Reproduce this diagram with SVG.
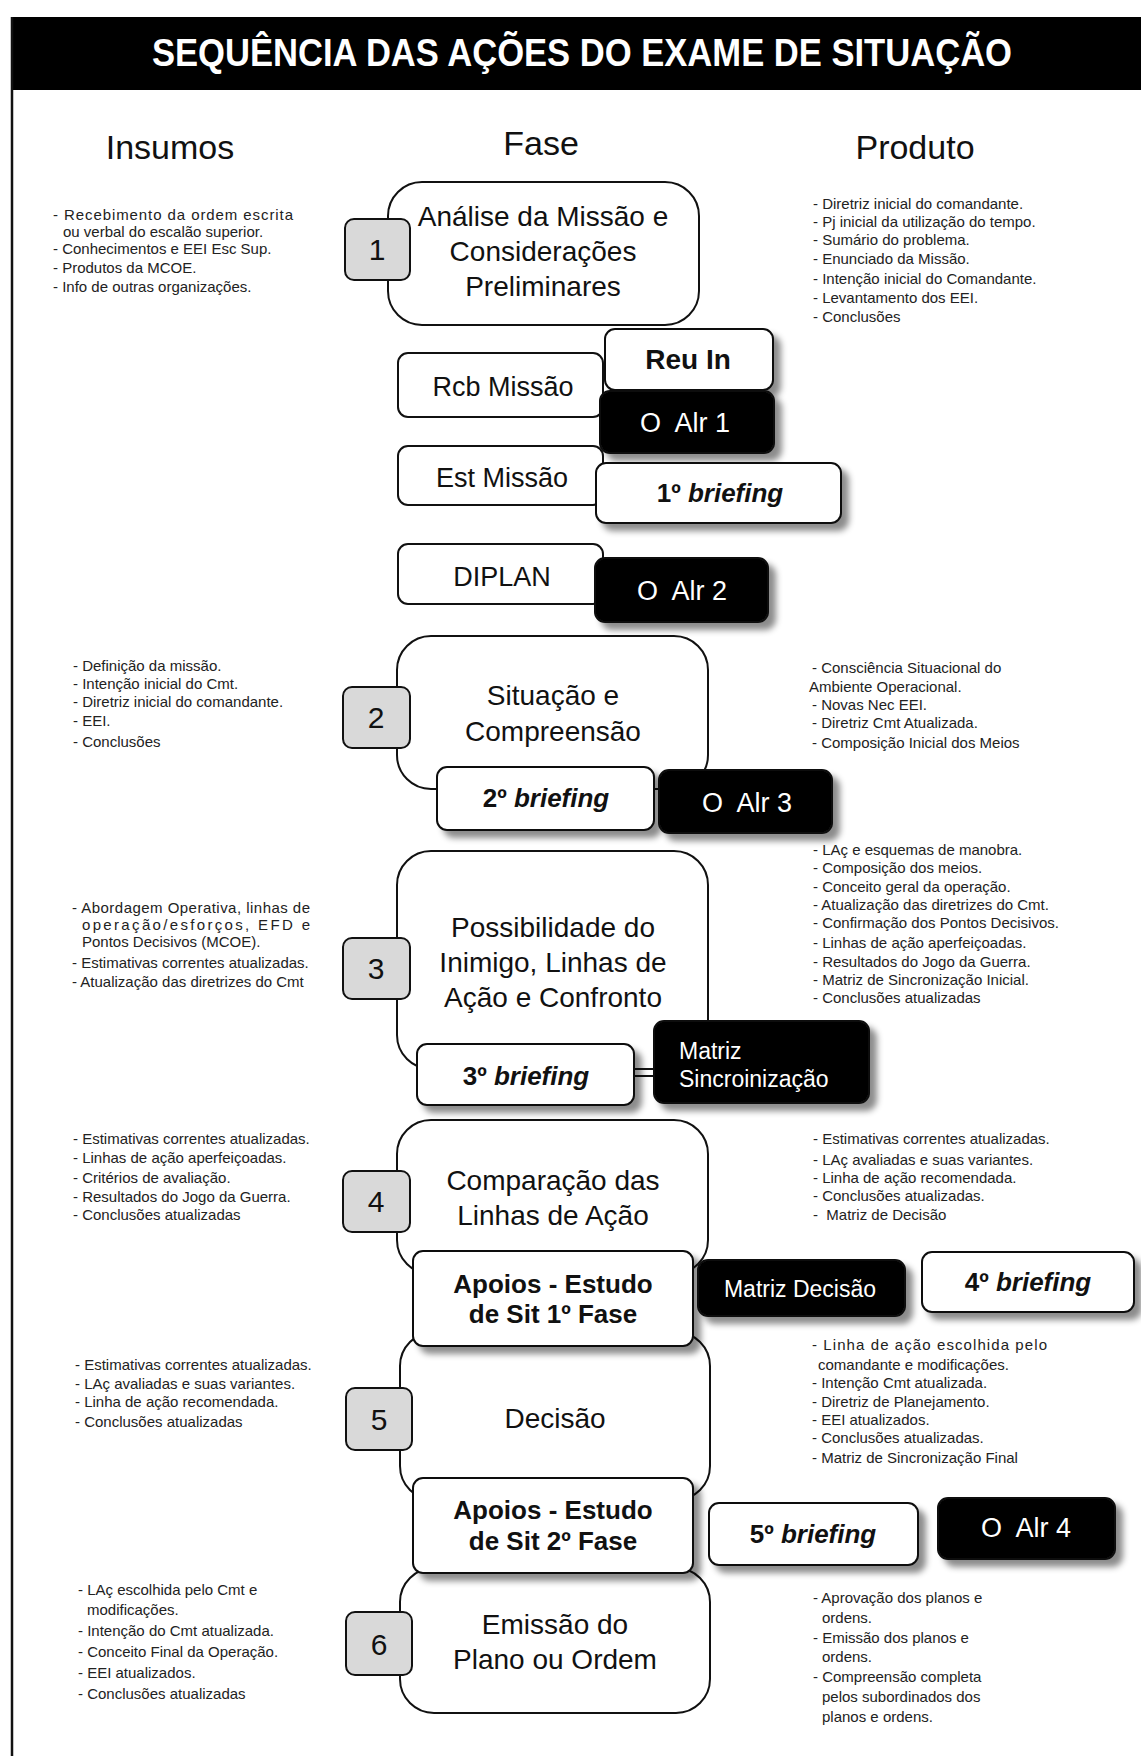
<svg xmlns="http://www.w3.org/2000/svg" width="1141" height="1756" viewBox="0 0 1141 1756">
<style>
text{font-family:"Liberation Sans",Arial,sans-serif;fill:#111}
.hd{font-size:34px;text-anchor:middle}
.ph{font-size:28px;text-anchor:middle}
.num{font-size:30px;text-anchor:middle}
.sb{font-size:27px;text-anchor:middle}
.bb{font-size:26px;font-weight:bold;text-anchor:middle}
.wt{fill:#fff}
.sm{font-size:15px;fill:#222}
.box{fill:#fff;stroke:#111;stroke-width:2}
.blk{fill:#000;stroke:#111;stroke-width:2}
.nb{fill:#d9d9d9;stroke:#111;stroke-width:2}
.sh{filter:url(#ds)}
</style>
<defs>
<filter id="ds" x="-20%" y="-20%" width="150%" height="160%">
<feDropShadow dx="7" dy="7" stdDeviation="3" flood-color="#000" flood-opacity="0.45"/>
</filter>
</defs>
<rect width="1141" height="1756" fill="#fff"/>
<g id="frame">
<rect x="11" y="17" width="1130" height="73" fill="#000"/>
<line x1="12" y1="17" x2="12" y2="1756" stroke="#111" stroke-width="2.5"/>
<text x="582" y="66" font-size="38" font-weight="bold" text-anchor="middle" textLength="860" lengthAdjust="spacingAndGlyphs" style="fill:#fff">SEQUÊNCIA DAS AÇÕES DO EXAME DE SITUAÇÃO</text>
</g>
<g id="headers">
<text class="hd" x="170" y="159">Insumos</text>
<text class="hd" x="541" y="155">Fase</text>
<text class="hd" x="915" y="159">Produto</text>
</g>

<g id="connectors">
<line x1="634" y1="1076" x2="654" y2="1076" stroke="#111" stroke-width="2"/>
</g>

<!-- Phase 1 -->
<g id="phase1">
<rect class="box" x="388" y="182" width="311" height="143" rx="34"/>
<text class="ph" x="543" y="226">Análise da Missão e</text>
<text class="ph" x="543" y="261">Considerações</text>
<text class="ph" x="543" y="296">Preliminares</text>
</g>
<g id="num1"><rect class="nb" x="345" y="219" width="65" height="61" rx="9"/><text class="num" x="377" y="260">1</text></g>
<g id="ins1" class="sm">
<text class="sm" x="53" y="220" textLength="240" lengthAdjust="spacing">-  Recebimento da ordem escrita</text>
<text class="sm" x="63" y="237">ou verbal do escalão superior.</text>
<text class="sm" x="53" y="254">- Conhecimentos e EEI Esc Sup.</text>
<text class="sm" x="53" y="273">- Produtos da MCOE.</text>
<text class="sm" x="53" y="292">- Info de outras organizações.</text>
</g>
<g id="prod1">
<text class="sm" x="813" y="209">- Diretriz inicial do comandante.</text>
<text class="sm" x="813" y="227">- Pj inicial da utilização do tempo.</text>
<text class="sm" x="813" y="245">- Sumário do problema.</text>
<text class="sm" x="813" y="264">- Enunciado da Missão.</text>
<text class="sm" x="813" y="284">- Intenção inicial do Comandante.</text>
<text class="sm" x="813" y="303">- Levantamento dos EEI.</text>
<text class="sm" x="813" y="322">- Conclusões</text>
</g>
<g id="rcb"><rect class="box" x="398" y="353" width="205" height="64" rx="10"/><text class="sb" x="503" y="396">Rcb Missão</text></g>
<g id="est"><rect class="box" x="398" y="446" width="205" height="59" rx="10"/><text class="sb" x="502" y="487">Est Missão</text></g>
<g id="diplan"><rect class="box" x="398" y="544" width="205" height="60" rx="10"/><text class="sb" x="502" y="586">DIPLAN</text></g>
<g id="reuin"><rect class="box sh" x="605" y="329" width="168" height="61" rx="10"/><text class="bb" x="688" y="369" style="font-size:28px">Reu In</text></g>
<g id="oalr1"><rect class="blk sh" x="600" y="391" width="174" height="62" rx="10"/><text class="sb wt" x="685" y="432" xml:space="preserve">O  Alr 1</text></g>
<g id="brief1"><rect class="box sh" x="596" y="463" width="245" height="60" rx="10"/><text class="bb" x="720" y="502">1º <tspan font-style="italic">briefing</tspan></text></g>
<g id="oalr2"><rect class="blk sh" x="595" y="558" width="173" height="64" rx="10"/><text class="sb wt" x="682" y="600" xml:space="preserve">O  Alr 2</text></g>

<!-- Phase 2 -->
<g id="phase2">
<rect class="box" x="397" y="636" width="311" height="153" rx="34"/>
<text class="ph" x="553" y="705">Situação e</text>
<text class="ph" x="553" y="741">Compreensão</text>
</g>
<g id="num2"><rect class="nb" x="343" y="687" width="67" height="61" rx="9"/><text class="num" x="376" y="728">2</text></g>
<g id="ins2">
<text class="sm" x="73" y="671">- Definição da missão.</text>
<text class="sm" x="73" y="689">- Intenção inicial do Cmt.</text>
<text class="sm" x="73" y="707">- Diretriz inicial do comandante.</text>
<text class="sm" x="73" y="726">- EEI.</text>
<text class="sm" x="73" y="747">- Conclusões</text>
</g>
<g id="prod2">
<text class="sm" x="812" y="673">- Consciência Situacional do</text>
<text class="sm" x="809" y="692">Ambiente Operacional.</text>
<text class="sm" x="812" y="710">- Novas Nec EEI.</text>
<text class="sm" x="812" y="728">- Diretriz Cmt Atualizada.</text>
<text class="sm" x="812" y="748">- Composição Inicial dos Meios</text>
</g>
<g id="brief2"><rect class="box sh" x="437" y="767" width="217" height="63" rx="10"/><text class="bb" x="546" y="807">2º <tspan font-style="italic">briefing</tspan></text></g>
<g id="oalr3"><rect class="blk sh" x="659" y="770" width="173" height="63" rx="10"/><text class="sb wt" x="747" y="812" xml:space="preserve">O  Alr 3</text></g>

<!-- Phase 3 -->
<g id="phase3">
<rect class="box" x="397" y="851" width="311" height="218" rx="34"/>
<text class="ph" x="553" y="937">Possibilidade do</text>
<text class="ph" x="553" y="972">Inimigo, Linhas de</text>
<text class="ph" x="553" y="1007">Ação e Confronto</text>
</g>
<g id="num3"><rect class="nb" x="343" y="938" width="67" height="61" rx="9"/><text class="num" x="376" y="979">3</text></g>
<g id="ins3">
<text class="sm" x="72" y="913" textLength="238" lengthAdjust="spacing">- Abordagem Operativa, linhas de</text>
<text class="sm" x="82" y="930" textLength="228" lengthAdjust="spacing">operação/esforços, EFD e</text>
<text class="sm" x="82" y="947">Pontos Decisivos (MCOE).</text>
<text class="sm" x="72" y="968">- Estimativas correntes atualizadas.</text>
<text class="sm" x="72" y="987">- Atualização das diretrizes do Cmt</text>
</g>
<g id="prod3">
<text class="sm" x="813" y="855">- LAç e esquemas de manobra.</text>
<text class="sm" x="813" y="873">- Composição dos meios.</text>
<text class="sm" x="813" y="892">- Conceito geral da operação.</text>
<text class="sm" x="813" y="910">- Atualização das diretrizes do Cmt.</text>
<text class="sm" x="813" y="928">- Confirmação dos Pontos Decisivos.</text>
<text class="sm" x="813" y="948">- Linhas de ação aperfeiçoadas.</text>
<text class="sm" x="813" y="967">- Resultados do Jogo da Guerra.</text>
<text class="sm" x="813" y="985">- Matriz de Sincronização Inicial.</text>
<text class="sm" x="813" y="1003">- Conclusões atualizadas</text>
</g>
<g id="brief3"><rect class="box sh" x="417" y="1044" width="217" height="61" rx="10"/><text class="bb" x="526" y="1085">3º <tspan font-style="italic">briefing</tspan></text></g>
<g id="matrizsinc"><rect class="blk sh" x="654" y="1021" width="215" height="82" rx="10"/>
<text class="wt" x="679" y="1059" font-size="23">Matriz</text>
<text class="wt" x="679" y="1087" font-size="23">Sincroinização</text></g>

<!-- Phase 4 -->
<g id="phase4">
<rect class="box" x="397" y="1120" width="311" height="154" rx="34"/>
<text class="ph" x="553" y="1190">Comparação das</text>
<text class="ph" x="553" y="1225">Linhas de Ação</text>
</g>
<g id="num4"><rect class="nb" x="343" y="1171" width="67" height="61" rx="9"/><text class="num" x="376" y="1212">4</text></g>
<g id="ins4">
<text class="sm" x="73" y="1144">- Estimativas correntes atualizadas.</text>
<text class="sm" x="73" y="1163">- Linhas de ação aperfeiçoadas.</text>
<text class="sm" x="73" y="1183">- Critérios de avaliação.</text>
<text class="sm" x="73" y="1202">- Resultados do Jogo da Guerra.</text>
<text class="sm" x="73" y="1220">- Conclusões atualizadas</text>
</g>
<g id="prod4">
<text class="sm" x="813" y="1144">- Estimativas correntes atualizadas.</text>
<text class="sm" x="813" y="1165">- LAç avaliadas e suas variantes.</text>
<text class="sm" x="813" y="1183">- Linha de ação recomendada.</text>
<text class="sm" x="813" y="1201">- Conclusões atualizadas.</text>
<text class="sm" x="813" y="1220" xml:space="preserve">-  Matriz de Decisão</text>
</g>

<!-- Phase 5 -->
<g id="phase5">
<rect class="box" x="400" y="1332" width="310" height="168" rx="34"/>
<text class="ph" x="555" y="1428">Decisão</text>
</g>
<g id="num5"><rect class="nb" x="346" y="1388" width="66" height="62" rx="9"/><text class="num" x="379" y="1430">5</text></g>
<g id="apoios1"><rect class="box sh" x="413" y="1251" width="280" height="95" rx="10"/>
<text class="bb" x="553" y="1293">Apoios - Estudo</text>
<text class="bb" x="553" y="1323">de Sit 1º Fase</text></g>
<g id="matrizdec"><rect class="blk sh" x="698" y="1260" width="207" height="56" rx="10"/><text class="wt" x="800" y="1297" font-size="23" text-anchor="middle">Matriz Decisão</text></g>
<g id="brief4"><rect class="box sh" x="922" y="1252" width="212" height="60" rx="10"/><text class="bb" x="1028" y="1291">4º <tspan font-style="italic">briefing</tspan></text></g>
<g id="ins5">
<text class="sm" x="75" y="1370">- Estimativas correntes atualizadas.</text>
<text class="sm" x="75" y="1389">- LAç avaliadas e suas variantes.</text>
<text class="sm" x="75" y="1407">- Linha de ação recomendada.</text>
<text class="sm" x="75" y="1427">- Conclusões atualizadas</text>
</g>
<g id="prod5">
<text class="sm" x="812" y="1350" textLength="235" lengthAdjust="spacing">-  Linha de ação escolhida pelo</text>
<text class="sm" x="818" y="1370">comandante e modificações.</text>
<text class="sm" x="812" y="1388">- Intenção Cmt atualizada.</text>
<text class="sm" x="812" y="1407">- Diretriz de Planejamento.</text>
<text class="sm" x="812" y="1425">- EEI atualizados.</text>
<text class="sm" x="812" y="1443">- Conclusões atualizadas.</text>
<text class="sm" x="812" y="1463">- Matriz de Sincronização Final</text>
</g>

<!-- Phase 6 -->
<g id="phase6">
<rect class="box" x="400" y="1568" width="310" height="145" rx="34"/>
<text class="ph" x="555" y="1634">Emissão do</text>
<text class="ph" x="555" y="1669">Plano ou Ordem</text>
</g>
<g id="num6"><rect class="nb" x="346" y="1612" width="66" height="63" rx="9"/><text class="num" x="379" y="1655">6</text></g>
<g id="apoios2"><rect class="box sh" x="413" y="1478" width="280" height="95" rx="10"/>
<text class="bb" x="553" y="1519">Apoios - Estudo</text>
<text class="bb" x="553" y="1550">de Sit 2º Fase</text></g>
<g id="brief5"><rect class="box sh" x="709" y="1503" width="209" height="62" rx="10"/><text class="bb" x="813" y="1543">5º <tspan font-style="italic">briefing</tspan></text></g>
<g id="oalr4"><rect class="blk sh" x="938" y="1498" width="177" height="61" rx="10"/><text class="sb wt" x="1026" y="1537" xml:space="preserve">O  Alr 4</text></g>
<g id="ins6">
<text class="sm" x="78" y="1595">- LAç escolhida pelo Cmt e</text>
<text class="sm" x="87" y="1615">modificações.</text>
<text class="sm" x="78" y="1636">- Intenção do Cmt atualizada.</text>
<text class="sm" x="78" y="1657">- Conceito Final da Operação.</text>
<text class="sm" x="78" y="1678">- EEI atualizados.</text>
<text class="sm" x="78" y="1699">- Conclusões atualizadas</text>
</g>
<g id="prod6">
<text class="sm" x="813" y="1603">- Aprovação dos planos e</text>
<text class="sm" x="822" y="1623">ordens.</text>
<text class="sm" x="813" y="1643">- Emissão dos planos e</text>
<text class="sm" x="822" y="1662">ordens.</text>
<text class="sm" x="813" y="1682">- Compreensão completa</text>
<text class="sm" x="822" y="1702">pelos subordinados dos</text>
<text class="sm" x="822" y="1722">planos e ordens.</text>
</g>
</svg>
